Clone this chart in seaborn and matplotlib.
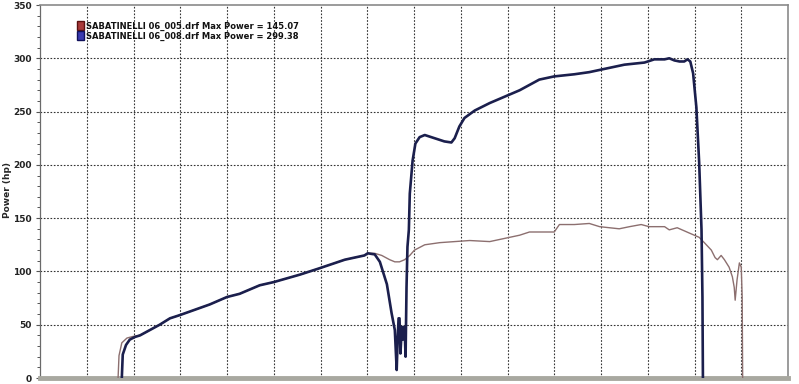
import numpy as np
import pandas as pd
import matplotlib
matplotlib.use("Agg")
import matplotlib.pyplot as plt
from matplotlib.patches import Patch
import seaborn as sns

# ---- data (x in grid units, y in hp) ----
run005_x = [1.67, 1.69, 1.75, 1.86, 1.99, 2.14, 2.35, 2.56, 2.78, 2.99, 3.31, 3.63, 4.00, 4.27,
            4.70, 5.00, 5.56, 5.98, 6.52, 6.94, 7.01, 7.16, 7.31, 7.48, 7.59, 7.69, 7.80, 7.91,
            8.01, 8.23, 8.55, 8.87, 9.19, 9.62, 9.94, 10.26, 10.47, 10.79, 11.00, 11.11, 11.43,
            11.75, 11.97, 12.18, 12.39, 12.61, 12.86, 13.03, 13.36, 13.46, 13.63, 13.89, 14.10,
            14.21, 14.36, 14.44, 14.49, 14.57, 14.64, 14.74, 14.81, 14.85, 14.87, 14.91, 14.96,
            15.00, 15.02, 15.03]
run005_hp = [0, 21, 33, 37.5, 39, 40, 45, 50, 56, 59, 64, 69, 76, 79,
             87, 90, 97, 103, 111, 115, 117, 117, 115, 111, 109, 109, 111, 115,
             120, 125, 127, 128, 129, 128, 131, 134, 137, 137, 137, 144, 144,
             145, 142, 141, 140, 142, 144, 142, 142, 139, 141, 136, 132,
             127, 120, 113, 111, 115, 111, 104, 95, 85, 73, 92, 108,
             104, 76, 0]

run008_x = [1.75, 1.77, 1.84, 1.92, 2.03, 2.14, 2.35, 2.56, 2.78, 2.99, 3.31, 3.63, 4.00, 4.27,
            4.70, 5.00, 5.56, 5.98, 6.52, 6.94, 7.01, 7.16, 7.27, 7.42, 7.52, 7.59, 7.61, 7.63,
            7.65, 7.67, 7.69, 7.71, 7.74, 7.76, 7.78, 7.80, 7.82, 7.84, 7.86, 7.89, 7.91, 7.97,
            8.03, 8.12, 8.23, 8.44, 8.65, 8.80, 8.87, 8.97, 9.08, 9.30, 9.62, 9.94, 10.26, 10.68,
            11.00, 11.43, 11.75, 12.07, 12.50, 12.93, 13.14, 13.36, 13.46, 13.57, 13.68, 13.78,
            13.85, 13.91, 13.97, 14.04, 14.10, 14.15, 14.17, 14.18]
run008_hp = [0, 22, 31, 36, 38.5, 40, 45, 50, 56, 59, 64, 69, 76, 79,
             87, 90, 97, 103, 111, 115, 117, 116, 109, 88, 61, 45, 26, 7.5,
             36, 56, 56, 23, 48, 36, 48, 45, 20, 85, 123, 139, 173, 204,
             220, 226, 228, 225, 222, 221, 225, 236, 244, 251, 258, 264, 270, 280,
             283, 285, 287, 290, 294, 296, 299, 299, 300, 298, 297, 297,
             299, 297, 286, 254, 202, 139, 76, 0]

legend_labels = ["SABATINELLI 06_005.drf Max Power = 145.07",
                 "SABATINELLI 06_008.drf Max Power = 299.38"]
y_ticks = [0, 50, 100, 150, 200, 250, 300, 350]

df005 = pd.DataFrame({"x": run005_x, "hp": run005_hp})
df008 = pd.DataFrame({"x": run008_x, "hp": run008_hp})

sns.set_style("white")
plt.rcParams["font.family"] = ["DejaVu Sans"]

fig = plt.figure(figsize=(7.99, 3.84), dpi=100, facecolor="white")
ax = fig.add_axes([40 / 799, 6 / 384, 748 / 799, 373 / 384])
ax.set_facecolor("white")

# grid
for gx in range(1, 16):
    ax.axvline(gx, color="#333333", lw=0.8, ls=(0, (1.5, 1.5)), zorder=1)
for gy in y_ticks[1:-1]:
    ax.axhline(gy, color="#333333", lw=0.8, ls=(0, (1.5, 1.5)), zorder=1)

sns.lineplot(data=df005, x="x", y="hp", sort=False, estimator=None, ax=ax,
             color="#8c6f6f", lw=1.0, zorder=3)
sns.lineplot(data=df008, x="x", y="hp", sort=False, estimator=None, ax=ax,
             color="#1b1f4d", lw=1.9, zorder=4)

ax.set_xlim(0, 16)
ax.set_ylim(0, 350)
ax.set_xticks([])
ax.set_yticks(y_ticks)
ax.set_yticklabels([str(v) for v in y_ticks], fontsize=6.5, fontweight="bold", color="#222222")
ax.set_yticks(np.arange(0, 351, 10), minor=True)
ax.tick_params(axis="y", which="major", length=3, width=0.8, color="#555555", pad=3, left=True)
ax.tick_params(axis="y", which="minor", length=2.5, width=0.7, color="#555555", left=True)
ax.set_xlabel("")
ax.set_ylabel("Power (hp)", fontsize=6.5, fontweight="bold")
ax.yaxis.set_label_coords(-0.037, 0.505)

for side in ["top", "right"]:
    ax.spines[side].set_color("#8a8a8a")
    ax.spines[side].set_linewidth(1.2)
ax.spines["left"].set_color("#6a6a6a")
ax.spines["left"].set_linewidth(0.9)
ax.spines["bottom"].set_color("#a8a8a0")
ax.spines["bottom"].set_linewidth(3.5)

handles = [Patch(facecolor="#a83a3a", edgecolor="#5a1010"),
           Patch(facecolor="#3a3ab0", edgecolor="#10105a")]
leg = ax.legend(handles, legend_labels, loc="upper left", bbox_to_anchor=(0.045, 0.965),
                frameon=False, prop={"size": 6, "weight": "bold"},
                handlelength=0.8, handleheight=1.2, handletextpad=0.3,
                labelspacing=0.1, borderaxespad=0)
for t in leg.get_texts():
    t.set_color("#111111")

fig.savefig("out.png", dpi=100, facecolor="white")
